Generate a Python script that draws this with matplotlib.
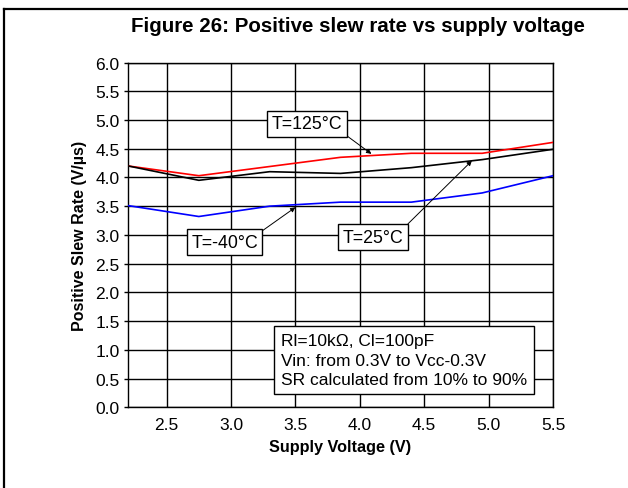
import matplotlib
matplotlib.use("Agg")
import matplotlib.pyplot as plt
from matplotlib.lines import Line2D

plt.rcParams['font.family'] = ['Liberation Sans', 'DejaVu Sans']

# Data
voltage = [2.2, 2.75, 3.3, 3.85, 4.4, 4.95, 5.5]
sr_125 = [4.20, 4.03, 4.19, 4.35, 4.42, 4.42, 4.61]
sr_25 = [4.20, 3.95, 4.10, 4.07, 4.17, 4.31, 4.49]
sr_m40 = [3.51, 3.32, 3.50, 3.57, 3.57, 3.73, 4.03]
x_ticks = [2.5, 3.0, 3.5, 4.0, 4.5, 5.0, 5.5]
y_ticks = [0.0, 0.5, 1.0, 1.5, 2.0, 2.5, 3.0, 3.5, 4.0, 4.5, 5.0, 5.5, 6.0]

title = "Figure 26: Positive slew rate vs supply voltage"
xlabel = "Supply Voltage (V)"
ylabel = "Positive Slew Rate (V/\u00b5s)"
cond_text = "Rl=10k\u03a9, Cl=100pF\nVin: from 0.3V to Vcc-0.3V\nSR calculated from 10% to 90%"

fig = plt.figure(figsize=(6.28, 4.89), dpi=100)
ax = fig.add_axes([128/628, 1 - 408.3/489, (553 - 128)/628, (408.3 - 63.5)/489])

ax.plot(voltage, sr_125, color='#ff0000', lw=1.2, zorder=3)
ax.plot(voltage, sr_25, color='black', lw=1.2, zorder=3)
ax.plot(voltage, sr_m40, color='#0000ff', lw=1.2, zorder=3)

ax.set_xlim(2.2, 5.5)
ax.set_ylim(0, 6)
ax.set_xticks(x_ticks)
ax.set_yticks(y_ticks)
ax.set_xticklabels([f"{v:.1f}" for v in x_ticks])
ax.set_yticklabels([f"{v:.1f}" for v in y_ticks])
ax.grid(True, color='black', lw=1.0)
ax.set_axisbelow(True)
for s in ax.spines.values():
    s.set_linewidth(1.0)
ax.tick_params(axis='x', length=0, pad=7, labelsize=12.5)
ax.tick_params(axis='y', length=3, width=1.0, pad=3, labelsize=12.5)

ax.set_xlabel(xlabel, fontsize=11.7, fontweight='bold', labelpad=5)
ax.set_ylabel(ylabel, fontsize=11.5, fontweight='bold', labelpad=6)

fig.text(358/628, 1 - 27/489, title, fontsize=14.8, fontweight='bold',
         ha='center', va='center')

bbox = dict(boxstyle='square,pad=0.25', fc='white', ec='black', lw=1.0)
arrow = dict(arrowstyle='-|>', lw=0.7, color='black', mutation_scale=7,
             shrinkA=0, shrinkB=0)

ax.annotate("T=125\u00b0C", xy=(4.09, 4.41), xytext=(3.59, 4.93),
            fontsize=12.8, ha='center', va='center', bbox=bbox,
            arrowprops=dict(arrow, relpos=(1, 0)), zorder=5)
ax.annotate("T=-40\u00b0C", xy=(3.50, 3.48), xytext=(2.95, 2.87),
            fontsize=12.8, ha='center', va='center', bbox=bbox,
            arrowprops=dict(arrow, relpos=(1, 1)), zorder=5)
ax.annotate("T=25\u00b0C", xy=(4.87, 4.29), xytext=(4.10, 2.96),
            fontsize=12.8, ha='center', va='center', bbox=bbox,
            arrowprops=dict(arrow, relpos=(1, 1)), zorder=5)

ax.text(3.39, 0.82, cond_text, fontsize=12.5, ha='left', va='center',
        linespacing=1.38, zorder=5,
        bbox=dict(boxstyle='square,pad=0.4', fc='white', ec='black', lw=1.0))

# figure frame
fig.add_artist(Line2D([4/628, 1.0], [1 - 10/489, 1 - 10/489],
                      transform=fig.transFigure, color='black', lw=1.6))
fig.add_artist(Line2D([4/628, 4/628], [0, 1 - 10/489],
                      transform=fig.transFigure, color='black', lw=1.6))

fig.savefig("out.png", dpi=100)
